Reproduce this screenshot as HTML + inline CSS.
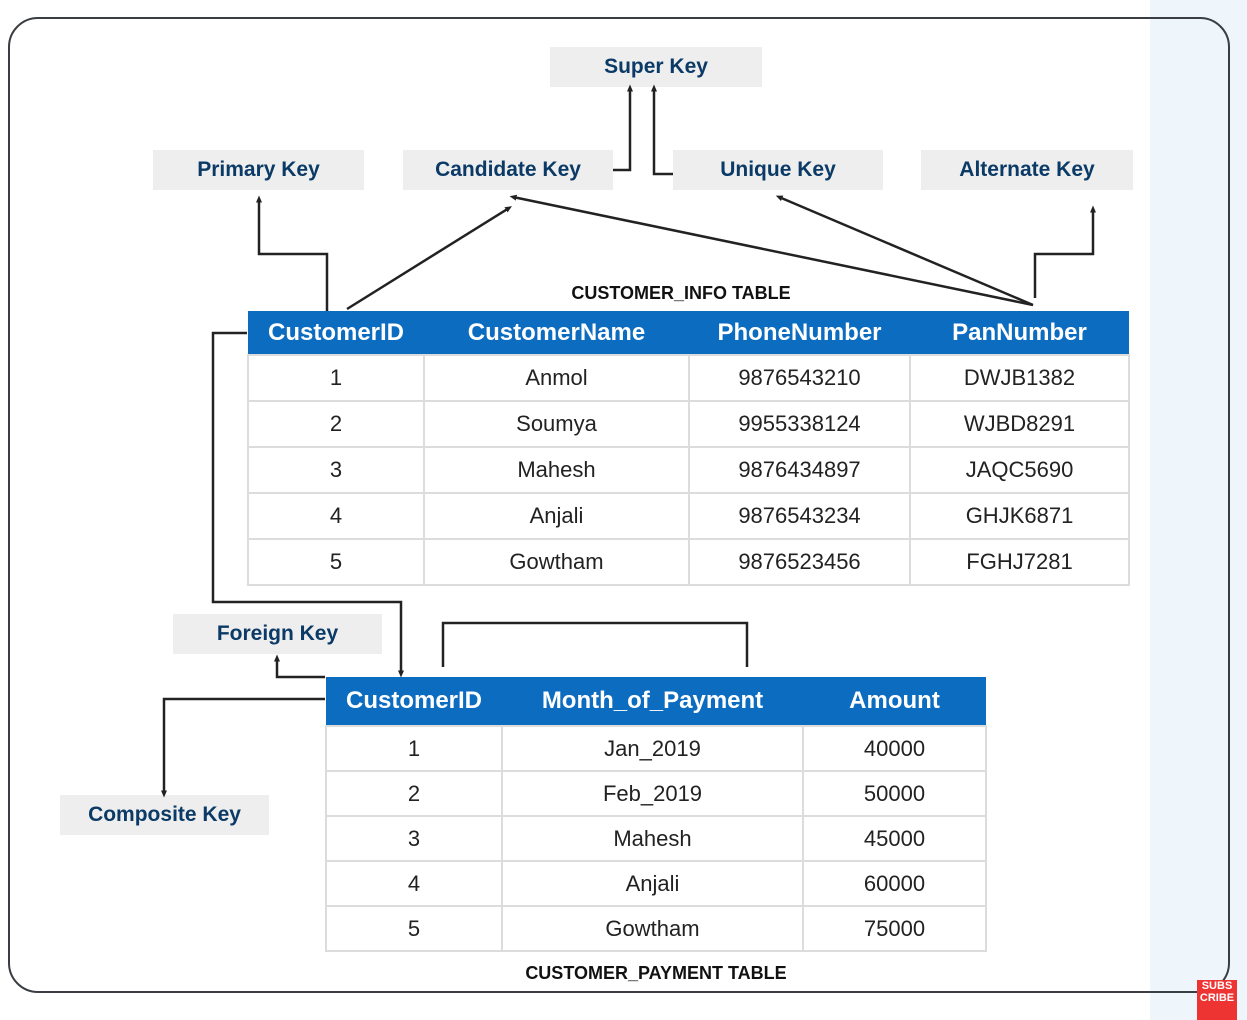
<!DOCTYPE html>
<html><head><meta charset="utf-8"><style>
body{margin:0;width:1247px;height:1020px;background:#fff;position:relative;overflow:hidden;font-family:"Liberation Sans",sans-serif}
.bg1{position:absolute;left:1150px;top:0;width:97px;height:1020px;background:#eef6fb}
.frame{position:absolute;left:8px;top:17px;width:1222px;height:976px;border:2px solid #3a3d42;border-radius:30px;box-sizing:border-box}
.key{position:absolute;background:#eeeeee;color:#0b3a66;font-weight:bold;font-size:21px;display:flex;align-items:center;justify-content:center;height:40px}
table{position:absolute;border-collapse:collapse;font-size:22px;color:#222}
th{background:#0c6cc0;color:#fff;font-weight:bold;font-size:24px;padding:0}
td{border:2px solid #dcdcdc;text-align:center;padding:0;background:#fff}
.ttl{position:absolute;font-weight:bold;font-size:18px;color:#111;transform:translateX(-50%);white-space:nowrap}
</style></head><body>
<div class="bg1"></div>
<div class="frame"></div>
<div class="key" style="left:550px;top:47px;width:212px">Super Key</div>
<div class="key" style="left:153px;top:150px;width:211px">Primary Key</div>
<div class="key" style="left:403px;top:150px;width:210px">Candidate Key</div>
<div class="key" style="left:673px;top:150px;width:210px">Unique Key</div>
<div class="key" style="left:921px;top:150px;width:212px">Alternate Key</div>
<div class="key" style="left:173px;top:614px;width:209px">Foreign Key</div>
<div class="key" style="left:60px;top:795px;width:209px">Composite Key</div>
<div class="ttl" style="left:681px;top:283px">CUSTOMER_INFO TABLE</div>
<div class="ttl" style="left:656px;top:963px">CUSTOMER_PAYMENT TABLE</div>
<table style="left:247px;top:311px;width:883px">
<tr style="height:44px"><th style="width:176px">CustomerID</th><th style="width:265px">CustomerName</th><th style="width:221px">PhoneNumber</th><th>PanNumber</th></tr>
<tr style="height:46px"><td>1</td><td>Anmol</td><td>9876543210</td><td>DWJB1382</td></tr>
<tr style="height:46px"><td>2</td><td>Soumya</td><td>9955338124</td><td>WJBD8291</td></tr>
<tr style="height:46px"><td>3</td><td>Mahesh</td><td>9876434897</td><td>JAQC5690</td></tr>
<tr style="height:46px"><td>4</td><td>Anjali</td><td>9876543234</td><td>GHJK6871</td></tr>
<tr style="height:46px"><td>5</td><td>Gowtham</td><td>9876523456</td><td>FGHJ7281</td></tr>
</table>
<table style="left:325px;top:677px;width:662px">
<tr style="height:49px"><th style="width:176px">CustomerID</th><th style="width:301px">Month_of_Payment</th><th>Amount</th></tr>
<tr style="height:45px"><td>1</td><td>Jan_2019</td><td>40000</td></tr>
<tr style="height:45px"><td>2</td><td>Feb_2019</td><td>50000</td></tr>
<tr style="height:45px"><td>3</td><td>Mahesh</td><td>45000</td></tr>
<tr style="height:45px"><td>4</td><td>Anjali</td><td>60000</td></tr>
<tr style="height:45px"><td>5</td><td>Gowtham</td><td>75000</td></tr>
</table>
<svg width="1247" height="1020" style="position:absolute;left:0;top:0" fill="none" stroke="#222" stroke-width="2.5">
<defs><marker id="a" markerUnits="userSpaceOnUse" markerWidth="7" markerHeight="7" refX="3.5" refY="3.5" orient="auto"><path d="M0,0.5L7,3.5L0,6.5z" fill="#222" stroke="none"/></marker></defs>
<path d="M327,311V254H259V199" marker-end="url(#a)"/>
<path d="M347,309L509,208" marker-end="url(#a)"/>
<path d="M1033,305L513,197" marker-end="url(#a)"/>
<path d="M1033,305L779,197" marker-end="url(#a)"/>
<path d="M1035,298V254H1093V209" marker-end="url(#a)"/>
<path d="M613,170H630V88" marker-end="url(#a)"/>
<path d="M673,174H654V88" marker-end="url(#a)"/>
<path d="M247,333H213V602H401V674" marker-end="url(#a)"/>
<path d="M325,677H277V658" marker-end="url(#a)"/>
<path d="M325,699H164V794" marker-end="url(#a)"/>
<path d="M443,667V623H747V667"/>
</svg>
<div style="position:absolute;left:1197px;top:980px;width:40px;height:40px;background:#e33;color:#fff;font-size:11px;font-weight:bold;text-align:center;line-height:12px">SUBS<br>CRIBE</div>
</body></html>
